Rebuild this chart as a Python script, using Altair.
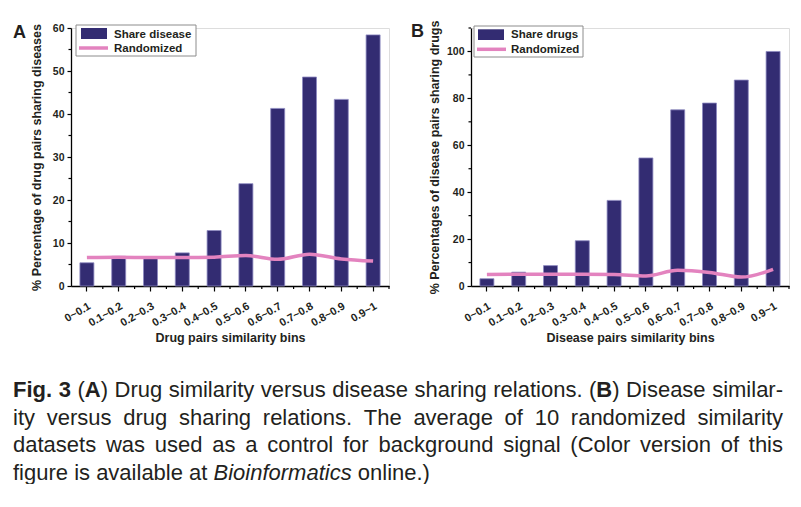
import altair as alt
import pandas as pd

# ---------------- data ----------------
bins = ["0~0.1", "0.1~0.2", "0.2~0.3", "0.3~0.4", "0.4~0.5",
        "0.5~0.6", "0.6~0.7", "0.7~0.8", "0.8~0.9", "0.9~1"]
share_disease = [5.4, 6.9, 6.7, 7.7, 12.9, 23.8, 41.3, 48.6, 43.4, 58.4]
random_a = [6.6, 6.7, 6.6, 6.6, 6.7, 7.1, 6.2, 7.4, 6.3, 5.8]
share_drugs = [3.1, 5.9, 8.7, 19.3, 36.5, 54.6, 75.1, 78.0, 87.8, 100.0]
random_b = [4.9, 5.0, 5.0, 5.0, 4.9, 4.3, 6.7, 5.8, 3.8, 7.1]

y_ticks_a = [0, 10, 20, 30, 40, 50, 60]
y_minor_a = [5, 15, 25, 35, 45, 55]
y_ticks_b = [0, 20, 40, 60, 80, 100]
y_minor_b = [10, 30, 50, 70, 90, 110]
x_minor = [1, 2, 3, 4, 5, 6, 7, 8, 9, 10]

caption_lines = [
    [("Fig. 3", "b"), (" (", "n"), ("A", "b"),
     (") Drug similarity versus disease sharing relations. (", "n"),
     ("B", "b"), (") Disease similar-", "n")],
    [("ity versus drug sharing relations. The average of 10 randomized similarity", "n")],
    [("datasets was used as a control for background signal (Color version of this", "n")],
    [("figure is available at ", "n"), ("Bioinformatics", "i"), (" online.)", "n")],
]

# ---------------- styling ----------------
NAVY = "#332c72"
PINK = "#e383bf"
FONT = "Liberation Sans"
TXT = "#231f20"
W, H = 318, 258

# Helvetica / Arial (Liberation Sans) advance widths, 1/1000 em
REG = dict(zip("abcdefghijklmnopqrstuvwxyz",
               [556, 556, 500, 556, 556, 278, 556, 556, 222, 222, 500, 222, 833,
                556, 556, 556, 556, 333, 500, 278, 556, 500, 722, 500, 500, 500]))
REG.update({" ": 278, ".": 278, "(": 333, ")": 333, "-": 333, "A": 667, "B": 667,
            "C": 722, "D": 722, "F": 611, "T": 611})
REG.update({d: 556 for d in "0123456789"})
BOLD = {"F": 611, "i": 278, "g": 611, ".": 278, " ": 278, "A": 722, "B": 722}
BOLD.update({d: 556 for d in "0123456789"})


def run_width(text, st, size):
    table = BOLD if st == "b" else REG
    return sum(table.get(c, REG.get(c, 556)) for c in text) * size / 1000.0


def words_of(runs):
    words = [[]]
    for text, st in runs:
        parts = text.split(" ")
        for k, p in enumerate(parts):
            if k > 0:
                words.append([])
            if p:
                words[-1].append((p, st))
    return [w for w in words if w]


CAP_SIZE = 22
PLOT_LEFT_PAGE = 70
PLOT_TOP_PAGE = 28
left_x = 12 - PLOT_LEFT_PAGE
right_x = 782 - PLOT_LEFT_PAGE
baselines = [397, 424.5, 452, 479.5]

rows = []
for li, runs in enumerate(caption_lines):
    words = words_of(runs)
    wwidths = [sum(run_width(t, s, CAP_SIZE) for t, s in w) for w in words]
    if li < len(caption_lines) - 1:
        gap = (right_x - left_x - sum(wwidths)) / (len(words) - 1)
    else:
        gap = REG[" "] * CAP_SIZE / 1000.0
    cx = left_x
    for w, ww in zip(words, wwidths):
        rx = cx
        for t, s in w:
            rows.append({"t": t, "st": s, "x": rx, "y": baselines[li] - PLOT_TOP_PAGE})
            rx += run_width(t, s, CAP_SIZE)
        cx += ww + gap
cap_df = pd.DataFrame(rows)

one = pd.DataFrame({"k": [0]})


def panel(values, rand, ymax, yticks, yminor, ytitle, xtitle, letter,
          leg_label, leg, ytitle_pad, extra=()):
    df = pd.DataFrame({"bin": bins, "share": values, "rand": rand})
    xscale = alt.Scale(paddingInner=0.56, paddingOuter=0.28)
    yscale = alt.Scale(domain=[0, ymax], nice=False, zero=True)
    xaxis = alt.Axis(title=xtitle, labelAngle=-30, labelAlign="right",
                     labelBaseline="top", labelPadding=9, tickSize=5,
                     domainColor="black", tickColor="black", domainWidth=1.3,
                     tickWidth=1.2, labelFont=FONT, labelFontWeight="bold",
                     labelFontSize=11, labelColor=TXT, titleFont=FONT,
                     titleFontWeight="bold", titleFontSize=12.5, titleColor=TXT,
                     titlePadding=3, grid=False)
    yaxis = alt.Axis(title=ytitle, values=yticks, tickSize=4, labelPadding=3,
                     domainColor="black", tickColor="black", domainWidth=1.3,
                     tickWidth=1.2, labelFont=FONT, labelFontWeight="bold",
                     labelFontSize=10.5, labelColor=TXT, titleFont=FONT,
                     titleFontWeight="bold", titleFontSize=12.5, titleColor=TXT,
                     titlePadding=ytitle_pad, grid=False)
    base = alt.Chart(df)
    bars = base.mark_bar(color=NAVY, stroke="#8d89c0", strokeWidth=0.8).encode(
        x=alt.X("bin:N", sort=bins, scale=xscale, axis=xaxis),
        y=alt.Y("share:Q", scale=yscale, axis=yaxis),
    )
    line = base.mark_line(color=PINK, strokeWidth=3.5, interpolate="monotone").encode(
        x=alt.X("bin:N", sort=bins, scale=xscale, axis=None),
        y=alt.Y("rand:Q", scale=yscale, axis=yaxis),
    )
    ymin_df = pd.DataFrame({"m": yminor})
    yminor_l = alt.Chart(ymin_df).mark_rule(color="black", strokeWidth=1.2).encode(
        y=alt.Y("m:Q", scale=yscale, axis=yaxis),
        x=alt.value(-2.5), x2=alt.value(0),
    )
    xmin_df = pd.DataFrame({"m": x_minor})
    xminor_l = alt.Chart(xmin_df).mark_rule(color="black", strokeWidth=1.2).encode(
        x=alt.X("m:Q", scale=alt.Scale(domain=[0, 10], nice=False), axis=None),
        y=alt.value(H), y2=alt.value(H + 3),
    )
    lb = alt.Chart(one)
    box = lb.mark_rect(fill="white", stroke="#8c8c8c", strokeWidth=1).encode(
        x=alt.value(leg["bx"][0]), x2=alt.value(leg["bx"][1]),
        y=alt.value(leg["by"][0]), y2=alt.value(leg["by"][1]))
    sw = lb.mark_rect(fill=NAVY).encode(
        x=alt.value(leg["sx"][0]), x2=alt.value(leg["sx"][1]),
        y=alt.value(leg["sy"][0]), y2=alt.value(leg["sy"][1]))
    lsw = lb.mark_rule(color=PINK, strokeWidth=3.5).encode(
        x=alt.value(leg["lx"][0]), x2=alt.value(leg["lx"][1]),
        y=alt.value(leg["ly"]))
    t1 = lb.mark_text(font=FONT, fontWeight="bold", fontSize=11.5, color=TXT,
                      align="left", baseline="alphabetic").encode(
        x=alt.value(leg["tx"]), y=alt.value(leg["ty"][0]), text=alt.value(leg_label))
    t2 = lb.mark_text(font=FONT, fontWeight="bold", fontSize=11.5, color=TXT,
                      align="left", baseline="alphabetic").encode(
        x=alt.value(leg["tx"]), y=alt.value(leg["ty"][1]), text=alt.value("Randomized"))
    let = lb.mark_text(font=FONT, fontWeight="bold", fontSize=18, color=TXT,
                       align="left", baseline="alphabetic").encode(
        x=alt.value(leg["letx"]), y=alt.value(leg["lety"]), text=alt.value(letter))
    return alt.layer(bars, line, yminor_l, xminor_l, box, sw, lsw, t1, t2, let,
                     *extra).resolve_scale(x="independent").properties(width=W, height=H)


leg_a = dict(bx=(5, 125), by=(-3, 28), sx=(10, 36), sy=(0, 11), lx=(8, 37), ly=20,
             tx=43, ty=(9.7, 24), letx=-58, lety=10)
leg_b = dict(bx=(3, 112), by=(-2, 29), sx=(7, 33), sy=(1.3, 12), lx=(6, 35), ly=21.3,
             tx=40, ty=(10, 25.3), letx=-60, lety=9)


def cap_layers():
    cap_base = alt.Chart(cap_df)
    out = []
    for st, weight, style in [("n", "normal", "normal"), ("b", "bold", "normal"),
                              ("i", "normal", "italic")]:
        out.append(
            cap_base.transform_filter(alt.datum.st == st).mark_text(
                font=FONT, fontSize=CAP_SIZE, fontWeight=weight, fontStyle=style,
                color=TXT, align="left", baseline="alphabetic").encode(
                x=alt.X("x:Q", scale=None, axis=None),
                y=alt.Y("y:Q", scale=None, axis=None), text="t:N"))
    return out


chart_a = panel(share_disease, random_a, 60, y_ticks_a, y_minor_a,
                "% Percentage of drug pairs sharing diseases",
                "Drug pairs similarity bins", "A", "Share disease", leg_a, 9,
                extra=cap_layers())
chart_b = panel(share_drugs, random_b, 110, y_ticks_b, y_minor_b,
                "% Percentages of disease pairs sharing drugs",
                "Disease pairs similarity bins", "B", "Share drugs", leg_b, 5)

chart = alt.hconcat(chart_a, chart_b, spacing=82, bounds="flush").properties(
    padding={"left": 4, "top": 11, "right": 0, "bottom": 0}
).configure_view(stroke=None).configure(background="white")

chart.save("out.html", embed_options={"renderer": "svg", "actions": False})
